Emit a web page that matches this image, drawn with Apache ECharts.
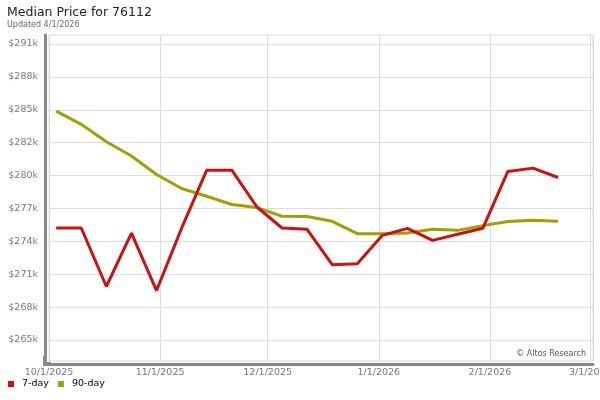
<!DOCTYPE html>
<html><head><meta charset="utf-8">
<script src="https://cdn.jsdelivr.net/npm/echarts@6/dist/echarts.min.js"></script>
<style>html,body{margin:0;padding:0;background:#fff}#c{width:600px;height:400px}</style>
</head><body><div id="c"></div>
<script>
const dates = ['2025-10-03','2025-10-10','2025-10-17','2025-10-24','2025-10-31','2025-11-07','2025-11-14','2025-11-21','2025-11-28','2025-12-05','2025-12-12','2025-12-19','2025-12-26','2026-01-02','2026-01-09','2026-01-16','2026-01-23','2026-01-30','2026-02-06','2026-02-13','2026-02-20'];
const sevenDay = [274910, 274910, 269730, 274460, 269370, 274900, 280030, 280030, 276770, 274910, 274790, 271660, 271740, 274260, 274880, 273810, 274350, 274880, 279920, 280210, 279380];
const ninetyDay = [285250, 284090, 282550, 281280, 279650, 278410, 277720, 276990, 276720, 275950, 275920, 275500, 274410, 274410, 274460, 274790, 274700, 275120, 275480, 275590, 275500];
const yTickStart = 264992;
const yTickStep = 2912;
const yTickLabels = ['$265k','$268k','$271k','$274k','$277k','$280k','$282k','$285k','$288k','$291k'];
const seriesNames = ['7-day','90-day'];
const seriesColors = ['#cc1111','#a0a000'];

const FONT = 'DejaVu Sans';
const chart = echarts.init(document.getElementById('c'), null, {renderer:'canvas'});
const fmtDate = v => { const d = new Date(v); return (d.getMonth()+1)+'/'+d.getDate()+'/'+d.getFullYear(); };
const yMax = yTickStart + yTickStep*(yTickLabels.length-1);
const pxPer = 296/(yMax - yTickStart);

chart.setOption({
  animation:false,
  backgroundColor:'#fff',
  textStyle:{fontFamily:FONT},
  title:[
    {text:'Median Price for 76112', left:7, top:6, padding:0, textStyle:{fontFamily:FONT, fontSize:12.5, lineHeight:14, fontWeight:'normal', color:'#222'}},
    {text:'Updated 4/1/2026', left:7, top:20, padding:0, textStyle:{fontFamily:FONT, fontSize:8, lineHeight:10, fontWeight:'normal', color:'#666'}},
    {text:'© Altos Research', right:14, top:349, padding:0, textStyle:{fontFamily:FONT, fontSize:8, lineHeight:10, fontWeight:'normal', color:'#555'}}
  ],
  legend:{
    data:seriesNames, left:8, top:379, padding:0, itemWidth:6, itemHeight:6, itemGap:9, icon:'rect',
    textStyle:{fontFamily:FONT, fontSize:9.5, color:'#000', padding:[0,0,0,3]}
  },
  grid:[
    {left:49, right:7, top:35, bottom:39, show:true, borderColor:'#dcdcdc', borderWidth:1, containLabel:false, outerBoundsMode:'none'},
    {left:49, right:7, top:44, bottom:60, show:false, containLabel:false, outerBoundsMode:'none'}
  ],
  graphic:[
    {type:'rect', left:43, top:356, z:100, silent:true, shape:{width:4, height:10}, style:{fill:'#888', stroke:null}},
    {type:'rect', left:43, top:362, z:100, silent:true, shape:{width:8, height:4}, style:{fill:'#888', stroke:null}}
  ],
  xAxis:[
    {type:'time', gridIndex:0, min:new Date(2025,9,1).getTime(), max:new Date(2026,2,1,18).getTime(), splitNumber:5,
     axisLine:{show:true, onZero:false, lineStyle:{color:'#888', width:3}}, offset:3,
     axisTick:{show:false},
     axisLabel:{color:'#777', fontFamily:FONT, fontSize:9.5, margin:4, formatter:fmtDate, showMaxLabel:false, hideOverlap:false},
     splitLine:{show:true, lineStyle:{color:'#dcdcdc', width:1}}},
    {type:'value', gridIndex:1, min:0, max:1, show:false}
  ],
  yAxis:[
    {type:'value', gridIndex:0, min:Math.round(yTickStart - 21/pxPer), max:Math.round(yMax + 9/pxPer),
     axisLine:{show:true, onZero:false, lineStyle:{color:'#888', width:3}}, offset:4,
     axisTick:{show:false}, axisLabel:{show:false}, splitLine:{show:false}},
    {type:'value', gridIndex:1, min:yTickStart, max:yMax, interval:yTickStep,
     axisLine:{show:false}, axisTick:{show:false},
     axisLabel:{color:'#777', fontFamily:FONT, fontSize:9.5, margin:11,
       formatter:v => yTickLabels[Math.round((v - yTickStart)/yTickStep)] || ''},
     splitLine:{show:true, lineStyle:{color:'#dcdcdc', width:1}}}
  ],
  series:[
    {name:seriesNames[0], type:'line', xAxisIndex:0, yAxisIndex:0, z:4, showSymbol:false, symbol:'none',
     color:seriesColors[0], lineStyle:{color:seriesColors[0], width:3},
     data:dates.map((d,i)=>[d, sevenDay[i]])},
    {name:seriesNames[1], type:'line', xAxisIndex:0, yAxisIndex:0, z:3, showSymbol:false, symbol:'none',
     color:seriesColors[1], lineStyle:{color:seriesColors[1], width:3},
     data:dates.map((d,i)=>[d, ninetyDay[i]])}
  ]
});
</script></body></html>
